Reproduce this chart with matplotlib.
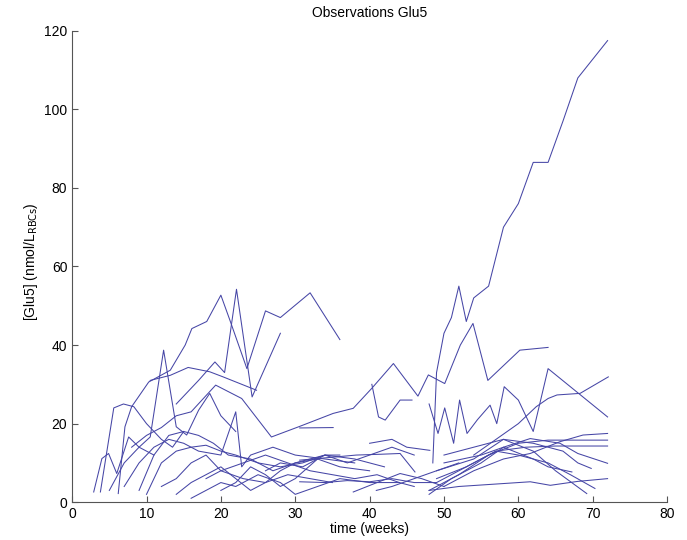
import matplotlib
matplotlib.use('Agg')
import matplotlib.pyplot as plt

# weeks / concentration per subject
t_big = [48.5, 49, 50, 51, 52, 53, 54, 56, 58, 60, 62, 64, 66, 68, 72]
g_big = [10, 33, 43, 47, 55, 46, 52, 55, 70, 76, 86.5, 86.5, 97, 108, 117.5]

t_long = [8, 10, 12, 14, 16, 19.3, 22.8, 26.8, 30.6, 35.1, 37.8, 40.3, 43.2, 46.5, 47.9, 50.1, 52.2, 53.9, 55.9, 60.2, 64]
g_long = [14, 17, 19, 22, 23, 29.8, 26.4, 16.6, 19.3, 22.6, 23.9, 29, 35.3, 27, 32.4, 30.2, 40, 45.5, 31, 38.7, 39.4]

t_zig = [48, 49.2, 50.1, 51.3, 52.1, 53.1, 54.5, 56.2, 57.1, 58.1, 60, 62, 64, 72]
g_zig = [25, 17.5, 24, 15, 26, 17.5, 21, 24.7, 20, 29.4, 26, 18, 34, 21.7]

t_s4 = [54, 57, 60, 62.4, 64, 65.2, 68.3, 72.1]
g_s4 = [12, 16, 20, 24.3, 26.4, 27.3, 27.7, 31.9]

t_l1 = [6.2, 7.1, 8, 10.3, 13.2, 15.2, 16.1, 18.1, 20, 21.2, 23.5, 26, 28, 32, 36]
g_l1 = [2.2, 19.2, 24.3, 30.6, 33.6, 40, 44.2, 46, 52.7, 46.4, 34, 48.7, 47, 53.3, 41.4]

t_l2 = [14, 17, 19.2, 20.5, 22.1, 24.2, 28]
g_l2 = [25, 31, 35.7, 33, 54.2, 26.8, 43]

t_arc = [10.5, 13.2, 15.6, 18.5, 20.3, 24.8]
g_arc = [31, 32.3, 34.3, 33.2, 31.9, 28.5]

t_l5 = [5, 7, 9, 10.5, 12.3, 14, 15.4, 17, 18.5, 20, 22]
g_l5 = [3, 10, 14, 16.6, 38.7, 19.2, 17.1, 23.4, 27.7, 22, 18]

t_l6 = [2.9, 4, 4.9, 6, 7.6, 9, 11]
g_l6 = [2.6, 11.1, 12.4, 7.3, 16.6, 14, 12]

t_l7 = [3.8, 5.6, 6.9, 8.3, 10, 12, 13.5, 15]
g_l7 = [2.6, 24, 25, 24.3, 20, 16, 14, 18]

t_m1 = [40.3, 41.2, 42.1, 44.1, 45.7]
g_m1 = [30, 21.7, 20.9, 26, 26]

t_r1 = [50, 54, 58, 61.6, 65.6, 68.7, 72]
g_r1 = [4, 8, 11, 12.4, 15.4, 17.1, 17.5]
t_r2 = [48, 52, 56, 60, 64, 68, 72]
g_r2 = [3, 7, 12, 15, 15.8, 15.8, 15.8]
t_r3 = [49, 53, 57, 61, 65, 72]
g_r3 = [6, 9, 13, 14, 14.3, 14.3]
t_r4 = [50, 55, 58, 61.6, 65.6, 68, 72]
g_r4 = [10, 12, 14, 16.2, 15, 12.4, 9.9]
t_r5 = [49, 54, 58, 62, 66, 68, 69.8]
g_r5 = [8, 11, 16, 15, 13, 10, 8.6]
t_r6 = [48, 52, 56, 61.6, 64.3, 68, 72]
g_r6 = [3, 4, 4.5, 5.2, 4.3, 5.3, 6]
t_r7 = [49, 53, 57, 60, 64, 67, 70.3]
g_r7 = [5, 9, 13, 12, 10, 7, 3.5]
t_r8 = [50, 54, 58, 62, 65, 69.2]
g_r8 = [12, 14, 16, 13, 8, 2.2]
t_r9 = [48, 51, 55, 58, 62, 64, 67.2]
g_r9 = [2, 6, 10, 14, 11, 9, 7.7]

t_b1 = [7, 9, 11, 13, 15, 17, 20, 22, 22.8, 24, 27, 30, 34, 38]
g_b1 = [4, 10, 14, 16, 15, 13, 12, 23, 9, 12, 14, 12, 11, 10]
t_b2 = [9, 11, 13, 15, 17, 19, 21, 24, 27, 30, 33]
g_b2 = [3, 12, 17, 18, 17, 15, 12, 11, 8, 10, 11]
t_b3 = [10, 12, 14, 16, 18, 20, 22, 25, 28, 31, 34, 36]
g_b3 = [2, 10, 13, 14, 14.5, 13, 12, 10, 9, 10, 12, 12]
t_b4 = [12, 14, 16, 18, 20, 23, 26, 29, 32, 35]
g_b4 = [4, 6, 10, 12, 8, 6, 5, 7, 6, 5]
t_b5 = [14, 16, 18, 20, 22, 24, 26, 28, 30, 34, 38, 42]
g_b5 = [2, 5, 7, 9, 6, 3, 5, 8, 10, 12, 11, 9]
t_b6 = [16, 18, 20, 22, 25, 28, 30, 33, 36, 40, 44]
g_b6 = [1, 3, 5, 4, 7, 5, 2, 4, 6, 5, 5]
t_b7 = [18, 20, 23, 26, 29, 32, 35, 38, 41, 44, 46]
g_b7 = [6, 8, 10, 12, 10, 8, 7, 6, 7, 5, 4]
t_b8 = [20, 22, 24, 26, 28, 30, 33, 36, 40]
g_b8 = [3, 5, 9, 7, 4, 6, 11, 9, 8]
t_b9 = [26, 28, 31, 34, 37, 40, 43, 46]
g_b9 = [8, 10, 9, 12, 10, 12, 14, 12]
t_b10 = [30.6, 35.3, 38.2, 41.4, 44.1, 46.1]
g_b10 = [10.7, 11.5, 12, 12.2, 12.4, 7.7]
t_b11 = [30.6, 35.1]
g_b11 = [18.9, 19]
t_b12 = [40, 43, 45, 48.1]
g_b12 = [15, 16, 14, 13.2]
t_b13 = [30.6, 34, 37, 40, 43, 46, 49]
g_b13 = [5.2, 5, 5.5, 5.2, 6, 5, 5]
t_b14 = [37.8, 41, 44.1, 47, 50]
g_b14 = [2.6, 5, 7.3, 6, 4]
t_b15 = [40.9, 43, 46, 49, 52]
g_b15 = [3, 4, 6, 8, 10]

subjects = [
    (t_big, g_big), (t_long, g_long), (t_zig, g_zig), (t_s4, g_s4),
    (t_l1, g_l1), (t_l2, g_l2), (t_arc, g_arc), (t_l5, g_l5),
    (t_l6, g_l6), (t_l7, g_l7), (t_m1, g_m1),
    (t_r1, g_r1), (t_r2, g_r2), (t_r3, g_r3), (t_r4, g_r4), (t_r5, g_r5),
    (t_r6, g_r6), (t_r7, g_r7), (t_r8, g_r8), (t_r9, g_r9),
    (t_b1, g_b1), (t_b2, g_b2), (t_b3, g_b3), (t_b4, g_b4), (t_b5, g_b5),
    (t_b6, g_b6), (t_b7, g_b7), (t_b8, g_b8), (t_b9, g_b9), (t_b10, g_b10),
    (t_b11, g_b11), (t_b12, g_b12), (t_b13, g_b13), (t_b14, g_b14), (t_b15, g_b15),
]

plt.rcParams['font.family'] = ['Liberation Sans', 'DejaVu Sans']

fig = plt.figure(figsize=(6.87, 5.40), dpi=100)
ax = fig.add_axes([0.105, 0.070, 0.866, 0.873])

for t, g in subjects:
    ax.plot(t, g, color='#4646a6', linewidth=0.75)

ax.set_xlim(0, 80)
ax.set_ylim(0, 120)
ax.set_xticks(range(0, 81, 10))
ax.set_yticks(range(0, 121, 20))
ax.spines['top'].set_visible(False)
ax.spines['right'].set_visible(False)
for s in ['left', 'bottom']:
    ax.spines[s].set_color('#555555')
    ax.spines[s].set_linewidth(0.8)
ax.tick_params(direction='in', length=4, colors='#555555', labelcolor='black', labelsize=10)

ax.set_title('Observations Glu5', fontsize=10, pad=10)
ax.set_xlabel('time (weeks)', fontsize=10, labelpad=1)
ax.set_ylabel(r'[Glu5] (nmol/L$_{\mathrm{RBCs}}$)', fontsize=10)
ax.yaxis.set_label_coords(-0.054, 0.51)

fig.savefig('out.png', dpi=100)
